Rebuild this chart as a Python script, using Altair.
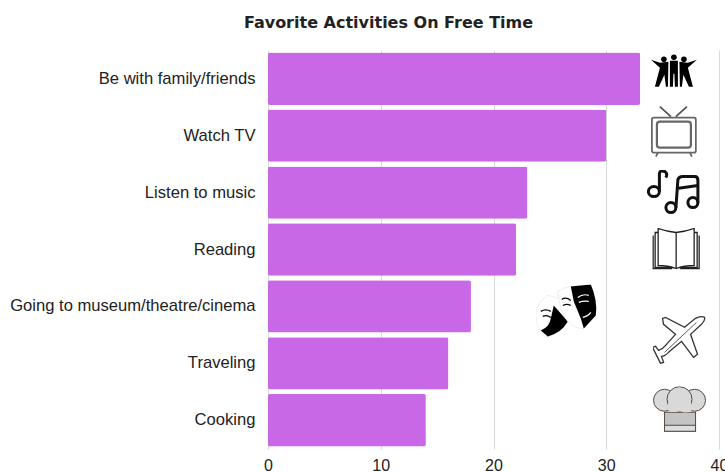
import base64
import altair as alt
import pandas as pd

activities = ["Be with family/friends", "Watch TV", "Listen to music", "Reading",
              "Going to museum/theatre/cinema", "Traveling", "Cooking"]
shares = [33, 30, 23, 22, 18, 16, 14]
ticks = [0, 10, 20, 30, 40]

# Pictograms drawn as small inline SVG documents
PEOPLE = """<svg xmlns='http://www.w3.org/2000/svg' viewBox='0 0 46 34'>
<g fill='#000'><circle cx='13' cy='5.500' r='2.800'/><circle cx='23' cy='3.600' r='2.800'/><circle cx='33' cy='5.500' r='2.800'/>
<path d='M0 6 L9 9 L17.500 8 L17 33 L15 33 L13.500 21 L8 33 L4 33 L9 14 Z'/>
<path d='M46 6 L37 9 L28.500 8 L29 33 L31 33 L32.500 21 L38 33 L42 33 L37 14 Z'/>
<path d='M19 7 L27 7 L27 33 L24 33 L23.500 20 L22.500 20 L22 33 L19 33 Z'/></g></svg>"""
TV = """<svg xmlns='http://www.w3.org/2000/svg' viewBox='0 0 46 52'>
<g fill='none' stroke='#666' stroke-width='1.800'><rect x='1' y='12' width='44' height='35' rx='2'/>
<rect x='6' y='16' width='34' height='26' rx='3' stroke-width='2.200'/>
<path d='M20 11 L9 1 M25 11 L36 1' stroke='#555'/><path d='M7 47 L5 51 M39 47 L41 51'/></g></svg>"""
MUSIC = """<svg xmlns='http://www.w3.org/2000/svg' viewBox='0 0 54 46'>
<g fill='none' stroke='#111' stroke-width='3'><ellipse cx='7' cy='22' rx='5.500' ry='5'/>
<path d='M12.500 22 L12.500 4 Q13 0 18 2 Q21 4 19 8'/>
<circle cx='24' cy='38' r='5'/><circle cx='46' cy='33' r='5'/>
<path d='M29 38 L31 10 Q32 7 36 7 L48 7 Q51 7 51 11 L51 33 M30 19 L51 16'/></g></svg>"""
BOOK = """<svg xmlns='http://www.w3.org/2000/svg' viewBox='0 0 48 44'>
<g fill='none' stroke='#222' stroke-width='1.300'><path d='M24 5 Q14 4 6 1 L6 38 Q16 38 24 41 Q32 38 42 38 L42 1 Q34 4 24 5 Z'/>
<path d='M24 5 L24 41'/><path d='M6 5 L3 5 L3 40 L20 40 M42 5 L45 5 L45 40 L28 40'/><path d='M1 8 L1 41 L20 41 M47 8 L47 41 L28 41'/></g></svg>"""
PLANE = """<svg xmlns='http://www.w3.org/2000/svg' viewBox='0 0 54 50'>
<path d='M52 3 Q53 6 49 10 L38 20 L45 40 L41 43 L29 27 L16 38 Q12 42 9 42 L11 48 L8 49 L4 41 L0 33 L3 32 L6 36 Q10 35 13 31 L23 20 L11 10 L10 4 L13 3 L32 13 L43 4 Q48 1 52 3 Z'
 fill='#fff' stroke='#333' stroke-width='1.300'/><path d='M44 8 L12 38' stroke='#333' fill='none' stroke-width='0.800'/></svg>"""
HAT = """<svg xmlns='http://www.w3.org/2000/svg' viewBox='0 0 54 46'>
<g stroke='#5a4a42' stroke-width='1' fill='#d9d9d9'>
<rect x='12' y='26' width='31' height='19' fill='#c4c4c4'/><rect x='12' y='39' width='31' height='6' fill='#dcdcdc'/>
<circle cx='12' cy='14' r='11'/><circle cx='42' cy='14' r='11'/><circle cx='27' cy='13' r='12.500'/>
<path d='M14 23 Q20 27 27 25 Q35 28 41 23 L36 10 L18 10 Z' stroke='none'/></g></svg>"""
MASKS = """<svg xmlns='http://www.w3.org/2000/svg' viewBox='0 0 62 56'>
<path d='M0 30 Q1 18 12 11 L24 14 L33 34 Q26 48 10 53 Q0 44 0 30 Z' fill='#fff' stroke='#e8e8e8' stroke-width='0.800'/>
<path d='M18 21 L32 37 Q26 48 12 52 L5 46 Q14 42 15 34 Z' fill='#000'/>
<path d='M5 27 Q10 24 15 27 M7 32 Q11 30 15 33' stroke='#000' fill='none' stroke-width='1.300'/>
<path d='M22 7 Q28 3 35 2 L55 0 Q62 16 60 31 L48 44 Q38 44 32 37 Q24 28 22 7 Z' fill='#fff' stroke='#e8e8e8' stroke-width='0.800'/>
<path d='M35 2 L55 0 Q62 16 60 31 L48 44 L45 34 L38 17 Z' fill='#000'/>
<path d='M26 15 Q30 12 35 16 M27 21 Q31 19 35 21' stroke='#000' fill='none' stroke-width='1.200'/>
<path d='M42 13 Q47 9 53 11 M43 18 Q48 16 53 17 M47 33 Q52 32 55 28' stroke='#fff' fill='none' stroke-width='1.200'/></svg>"""


def uri(svg):
    return "data:image/svg+xml;base64," + base64.b64encode(svg.encode()).decode()


y_scale = alt.Y("activity:N", sort=activities, title=None,
                scale=alt.Scale(paddingInner=0.08, paddingOuter=0.045),
                axis=alt.Axis(domain=False, ticks=False, grid=False, labelPadding=13,
                              labelFont="Liberation Sans", labelFontSize=16.6,
                              labelColor="#222222", labelLimit=300))
x_scale = alt.X("share:Q", title=None,
                scale=alt.Scale(domain=[0, 40], nice=False),
                axis=alt.Axis(values=ticks, domain=False, ticks=False, grid=True, gridColor="#d9d9d9",
                              gridWidth=1, labelFont="Liberation Sans", labelFontSize=16,
                              labelColor="#222222", labelPadding=8, labelFlush=False))

bars = (alt.Chart(pd.DataFrame({"activity": activities, "share": shares}))
        .mark_bar(color="#c968e6", cornerRadius=2)
        .encode(x=x_scale, y=y_scale))


def icon(svg, activity, share, w, h, lift):
    row = pd.DataFrame({"activity": [activity], "share": [share]})
    return (alt.Chart(row)
            .mark_image(url=uri(svg), width=w, height=h, yOffset=lift)
            .encode(x=alt.X("share:Q"), y=alt.Y("activity:N", sort=activities)))


layers = [
    bars,
    icon(PEOPLE, activities[0], 36.0, 46, 34, -8),
    icon(TV, activities[1], 36.0, 46, 53, -4),
    icon(MUSIC, activities[2], 36.0, 54, 46, 0),
    icon(BOOK, activities[3], 36.2, 48, 44, 0),
    icon(MASKS, activities[4], 26.5, 62, 56, 6),
    icon(PLANE, activities[5], 36.5, 54, 50, -24),
    icon(HAT, activities[6], 36.5, 54, 46, -11),
]

chart = (alt.layer(*layers)
         .properties(width=451, height=399,
                     padding={"left": 268, "top": 50, "right": 6, "bottom": 23},
                     autosize=alt.AutoSizeParams(type="none"),
                     title=alt.TitleParams("Favorite Activities On Free Time", font="DejaVu Sans",
                                           fontSize=16, fontWeight="bold", color="#222222",
                                           anchor="middle", dx=-105, offset=19))
         .configure_view(stroke=None))

chart.save("out.html", embed_options={"renderer": "svg", "actions": False})
